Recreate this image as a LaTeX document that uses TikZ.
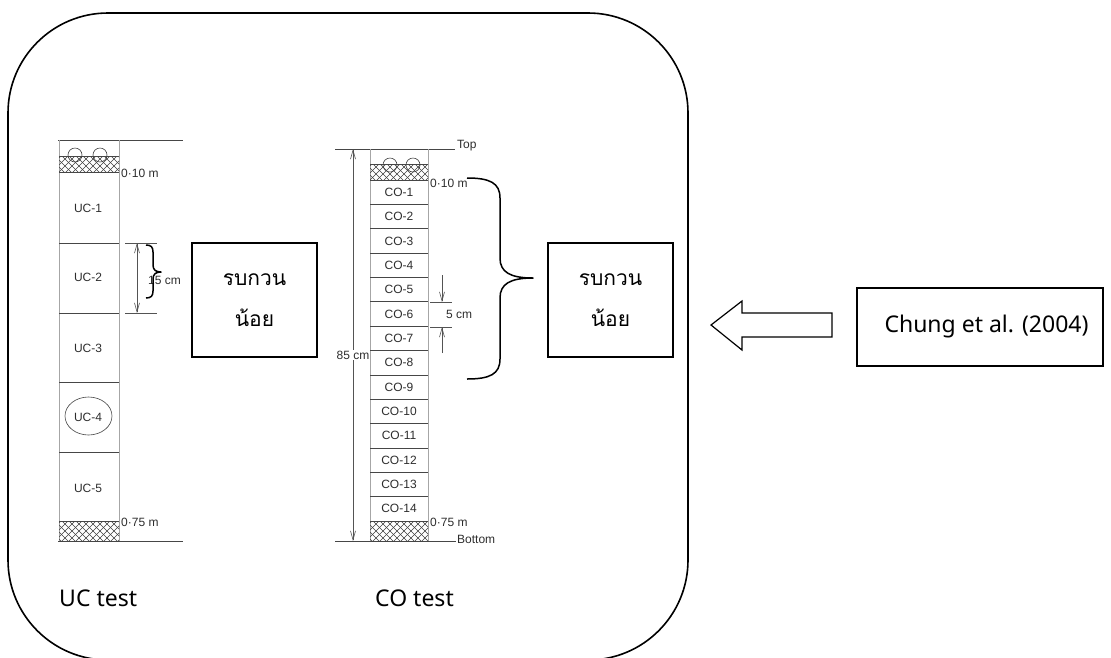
\documentclass[tikz,border=0pt]{standalone}
\usepackage{fontspec}
\setmainfont{Noto Sans}
\newfontfamily\thaifont[Script=Thai]{Loma}
\newfontfamily\scanfont{Liberation Sans}
\usetikzlibrary{arrows.meta}

% cross-hatched band (gravel layer) between two corners
\newcommand\hatchband[4]{%
  \begin{scope}
    \clip (#1,#2) rectangle (#3,#4);
    \foreach \k in {0,7,...,98}{
      \draw[hatchline] ({#1-30+\k},{#2-5}) -- ++(30,30);
      \draw[hatchline] ({#1+\k},{#2-5}) -- ++(-30,30);
    }
  \end{scope}
  \draw[rowline] (#1,#2) -- (#3,#2);
}

\tikzset{
  frame/.style={line width=1.6pt, rounded corners=100pt},
  colline/.style={draw=gray!70, line width=0.7pt},
  rowline/.style={draw=gray!55!black, line width=0.7pt},
  hatchline/.style={draw=gray!50!black, line width=0.5pt},
  scan/.style={font=\scanfont\fontsize{12}{14}\selectfont, text=gray!35!black, inner sep=0pt},
  dim/.style={draw=gray!65!black, line width=0.6pt},
  dimarrow/.style={dim, -{Straight Barb[length=9pt,width=5pt]}},
  dimboth/.style={dim, {Straight Barb[length=9pt,width=5pt]}-{Straight Barb[length=9pt,width=5pt]}},
  brace/.style={line width=1.5pt, line join=round},
  thaibox/.style={draw, line width=1.2pt, minimum width=125pt, minimum height=114pt,
    align=center, inner sep=0pt, font=\thaifont\fontsize{21}{41}\selectfont},
  refbox/.style={draw, line width=1.1pt, minimum width=246pt, minimum height=78pt,
    inner sep=0pt, font=\fontsize{23}{28}\selectfont},
  caption/.style={anchor=west, inner sep=0pt, font=\fontsize{23}{28}\selectfont},
  blockarrow/.style={line width=1.2pt, line join=miter},
}

\begin{document}
\begin{tikzpicture}[x=1pt, y=-1pt]
\useasboundingbox (0,0) rectangle (1111,657);

% outer rounded frame
\draw[frame] (8,13) rectangle (688,660);

% ---------------- UC column ----------------
\draw[rowline] (58,140) -- (183,140);
\draw[rowline] (58,541) -- (183,541);
\draw[colline] (59,140) -- (59,541);
\draw[colline] (119,140) -- (119,541);
\hatchband{59}{156}{119}{172}
\hatchband{59}{521}{119}{541}
\draw[rowline] (59,172) -- (119,172);
\draw[gray!50!black, line width=0.6pt] (75,155) circle [radius=7];
\draw[gray!50!black, line width=0.6pt] (100,155) circle [radius=7];
\foreach \y in {243,313,382,452}
  \draw[rowline] (59,\y) -- (119,\y);
\node[scan] (uc1) at (88,208) {UC-1};
\node[scan] (uc2) at (88,277) {UC-2};
\node[scan] (uc3) at (88,348) {UC-3};
\node[scan] (uc4) at (88,417) {UC-4};
\node[scan] (uc5) at (88,488) {UC-5};
\draw[gray!55!black, line width=0.6pt] (88.5,416) ellipse [x radius=23.5, y radius=19];
\node[scan, anchor=west] (uctoplab) at (121,173) {0·10 m};
\node[scan, anchor=west] (ucbotlab) at (121,522) {0·75 m};

% 15 cm dimension
\draw[dim] (125,243) -- (157,243);
\draw[dim] (125,313) -- (157,313);
\coordinate (ucdimtop) at (137,243);
\coordinate (ucdimbot) at (137,313);
\draw[dimboth] (ucdimtop) -- (ucdimbot);
\node[scan, anchor=west] (ucdimlab) at (148,280) {15 cm};
\draw[brace] (146,245) .. controls (151,245) and (153,247) .. (153,252) -- (153,265)
  .. controls (153,270) and (156,272) .. (161,272)
  .. controls (156,272) and (153,274) .. (153,279) -- (153,291)
  .. controls (153,296) and (151,298) .. (146,298);

% ---------------- CO column ----------------
\draw[rowline] (335,149) -- (455,149);
\draw[rowline] (335,541) -- (456,541);
\node[scan, anchor=west] (toplab) at (457,146) {Top};
\node[scan, anchor=west] (botlab) at (457,539) {Bottom};
\draw[colline] (370,149) -- (370,541);
\draw[colline] (428,149) -- (428,541);
\hatchband{370}{164}{428}{180}
\hatchband{370}{521}{428}{541}
\draw[rowline] (370,180) -- (428,180);
\draw[gray!50!black, line width=0.6pt] (390,165) circle [radius=7];
\draw[gray!50!black, line width=0.6pt] (413,165) circle [radius=7];
\foreach \i in {1,...,13}
  \draw[rowline] (370,{180+24.357*\i}) -- (428,{180+24.357*\i});
\foreach \i in {1,...,14}
  \node[scan] (co\i) at (399,{180+24.357*(\i-0.5)}) {CO-\i};
\node[scan, anchor=west] (cotoplab) at (430,183) {0·10 m};
\node[scan, anchor=west] (cobotlab) at (430,522) {0·75 m};

% 85 cm dimension
\coordinate (codimtop) at (353,149);
\coordinate (codimbot) at (353,541);
\draw[dimboth] (codimtop) -- (codimbot);
\node[scan, fill=white, inner sep=1pt] (codimlab) at (353,355) {85 cm};

% 5 cm dimension
\draw[dim] (430,302) -- (452,302);
\draw[dim] (430,327) -- (452,327);
\coordinate (fivea) at (442,275);
\coordinate (fiveb) at (442,302);
\coordinate (fivec) at (442,353);
\coordinate (fived) at (442,327);
\draw[dimarrow] (fivea) -- (fiveb);
\draw[dimarrow] (fivec) -- (fived);
\node[scan, anchor=west] (fivelab) at (446,314) {5 cm};

% big brace
\draw[brace] (467,178) .. controls (490,178) and (500,183) .. (500,198) -- (500,258)
  .. controls (500,272) and (510,278) .. (533,278)
  .. controls (510,278) and (500,284) .. (500,298) -- (500,359)
  .. controls (500,374) and (490,379) .. (467,379);

% ---------------- text boxes ----------------
\node[thaibox] (leftbox) at (254.5,300) {รบกวน\\น้อย};
\node[thaibox] (rightbox) at (610.5,300) {รบกวน\\น้อย};

\node[caption] (uctest) at (59,598) {UC test};
\node[caption] (cotest) at (375,598) {CO test};

% source box and hollow block arrow
\node[refbox] (chung) at (980,327) {\hspace*{13pt}Chung et al. (2004)};
\draw[blockarrow] (711,325) -- (742,301) -- (742,313) -- (832,313) -- (832,337)
  -- (742,337) -- (742,350) -- cycle;

\end{tikzpicture}
\end{document}
